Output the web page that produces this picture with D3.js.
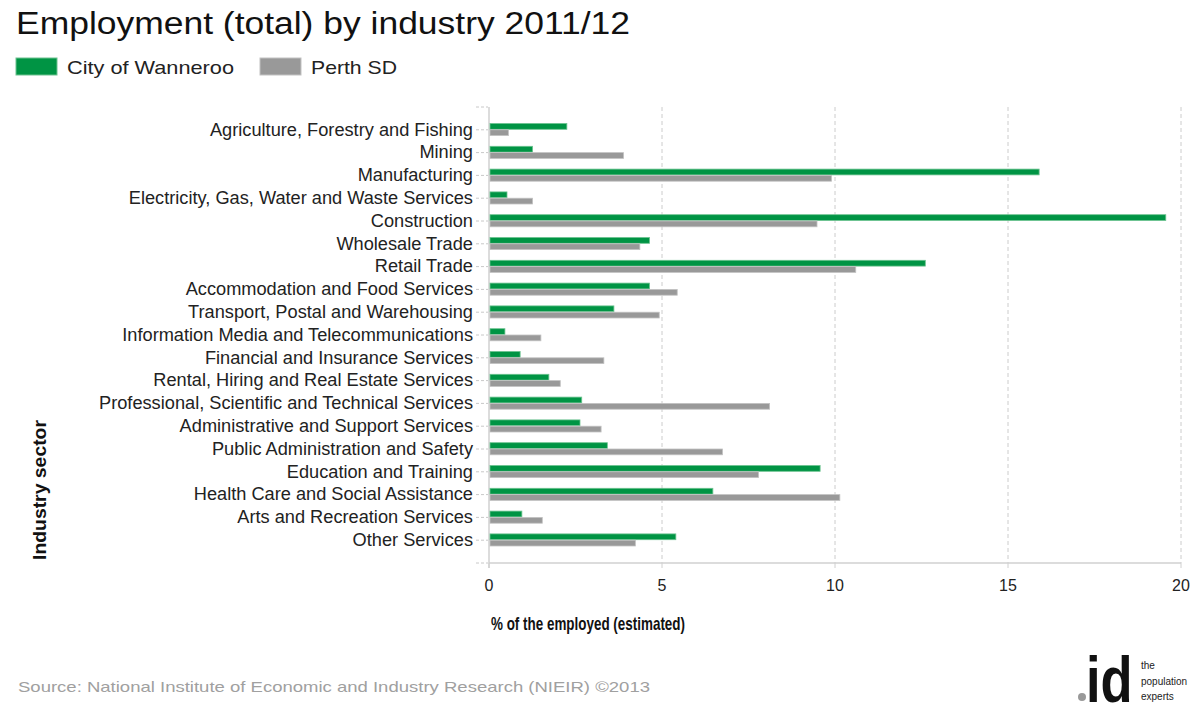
<!DOCTYPE html>
<html><head><meta charset="utf-8">
<script src="https://cdn.jsdelivr.net/npm/d3@7"></script>
<style>body{margin:0;background:#fff}svg{display:block}text{font-family:"Liberation Sans",Arial,sans-serif}</style>
</head><body>
<svg id="c" width="1200" height="714"></svg>
<script>
const categories = ["Agriculture, Forestry and Fishing","Mining","Manufacturing","Electricity, Gas, Water and Waste Services","Construction","Wholesale Trade","Retail Trade","Accommodation and Food Services","Transport, Postal and Warehousing","Information Media and Telecommunications","Financial and Insurance Services","Rental, Hiring and Real Estate Services","Professional, Scientific and Technical Services","Administrative and Support Services","Public Administration and Safety","Education and Training","Health Care and Social Assistance","Arts and Recreation Services","Other Services"];
const wanneroo = [2.25,1.26,15.9,0.52,19.56,4.64,12.61,4.64,3.61,0.46,0.90,1.73,2.68,2.63,3.42,9.57,6.47,0.95,5.40];
const perth    = [0.56,3.89,9.9,1.26,9.48,4.36,10.6,5.44,4.92,1.50,3.32,2.06,8.11,3.24,6.75,7.79,10.14,1.54,4.23];
const seriesNames = ["City of Wanneroo","Perth SD"];
const xTicks = [0,5,10,15,20];

const svg = d3.select("#c");
const L = 489, R = 1181, T = 107, B = 563;
const x = d3.scaleLinear().domain([0,20]).range([L,R]);
const y = d3.scaleBand().domain(categories).range([T,B]).paddingInner(0).paddingOuter(0.5);
const bh = 6.3;
const colors = ["#009444","#999999"];
const strokes = ["#6cc28f","#c2c2c2"];

// title
svg.append("text").attr("x",16).attr("y",34).attr("font-size",31).attr("fill","#111")
  .attr("textLength",614).attr("lengthAdjust","spacingAndGlyphs").text("Employment (total) by industry 2011/12");
// legend
const legW = [167,86];
seriesNames.forEach((n,i)=>{
  const lx = [16,260][i];
  svg.append("rect").attr("x",lx).attr("y",58).attr("width",41).attr("height",17).attr("fill",colors[i]).attr("stroke",strokes[i]).attr("stroke-width",1);
  svg.append("text").attr("x",lx+51).attr("y",74).attr("font-size",19).attr("fill","#222")
    .attr("textLength",legW[i]).attr("lengthAdjust","spacingAndGlyphs").text(n);
});

// grid
svg.append("g").selectAll("line").data(xTicks.filter(d=>d>0)).join("line")
  .attr("x1",d=>x(d)).attr("x2",d=>x(d)).attr("y1",T).attr("y2",B)
  .attr("stroke","#cccccc").attr("stroke-dasharray","4,3");

// axes lines
svg.append("line").attr("x1",L).attr("x2",L).attr("y1",T).attr("y2",B+5).attr("stroke","#d0d0d0").attr("stroke-width",1.5);
svg.append("line").attr("x1",L).attr("x2",R).attr("y1",B).attr("y2",B).attr("stroke","#d0d0d0").attr("stroke-width",1.5);

// y ticks (dashed) + edge ticks
const yTickPos = categories.map(c=>y(c)+y.bandwidth()/2).concat([T,B]);
svg.append("g").selectAll("line").data(yTickPos).join("line")
  .attr("x1",L-13).attr("x2",L-1).attr("y1",d=>d).attr("y2",d=>d)
  .attr("stroke","#c8c8c8").attr("stroke-dasharray","3,2");

// x ticks
svg.append("g").selectAll("line").data(xTicks).join("line")
  .attr("x1",d=>x(d)).attr("x2",d=>x(d)).attr("y1",B).attr("y2",B+5).attr("stroke","#d0d0d0");
svg.append("g").selectAll("text").data(xTicks).join("text")
  .attr("x",d=>x(d)).attr("y",591).attr("text-anchor","middle").attr("font-size",16).attr("fill","#222")
  .text(d=>d);

// category labels
svg.append("g").selectAll("text").data(categories).join("text")
  .attr("x",473).attr("y",d=>y(d)+y.bandwidth()/2+5.8).attr("text-anchor","end")
  .attr("font-size",17.5).attr("fill","#222").text(d=>d)
  .each(function(){ const w=this.getComputedTextLength(); d3.select(this).attr("textLength",w*1.04).attr("lengthAdjust","spacingAndGlyphs"); });

// bars
const data = [wanneroo, perth];
data.forEach((vals,si)=>{
  svg.append("g").selectAll("rect").data(vals).join("rect")
    .attr("x",x(0)+1).attr("y",(d,i)=>y(categories[i])+y.bandwidth()/2 - bh + si*bh)
    .attr("width",d=>x(d)-x(0)-1).attr("height",bh-0.5)
    .attr("fill",colors[si]).attr("stroke",strokes[si]).attr("stroke-width",0.8);
});

// axis titles
svg.append("text").attr("x",491).attr("y",630).attr("font-size",18.5).attr("font-weight","bold").attr("fill","#111")
  .attr("textLength",194).attr("lengthAdjust","spacingAndGlyphs").text("% of the employed (estimated)");
svg.append("text").attr("transform","translate(46,490) rotate(-90)").attr("text-anchor","middle")
  .attr("font-size",18).attr("font-weight","bold").attr("fill","#111")
  .attr("textLength",140).attr("lengthAdjust","spacingAndGlyphs").text("Industry sector");

// source
svg.append("text").attr("x",18).attr("y",692).attr("font-size",15).attr("fill","#a0a0a0")
  .attr("textLength",632).attr("lengthAdjust","spacingAndGlyphs")
  .text("Source: National Institute of Economic and Industry Research (NIEIR) ©2013");

// logo
svg.append("circle").attr("cx",1082).attr("cy",697).attr("r",4).attr("fill","#999");
svg.append("text").attr("transform","translate(1086,702) scale(0.82,1)").attr("font-size",64).attr("font-weight","bold").attr("fill","#111")
  .text("id");
[["the",669],["population",685],["experts",700]].forEach(([t,yy])=>{
  svg.append("text").attr("x",1141).attr("y",yy).attr("font-size",10).attr("fill","#222").text(t);
});
</script>
</body></html>
